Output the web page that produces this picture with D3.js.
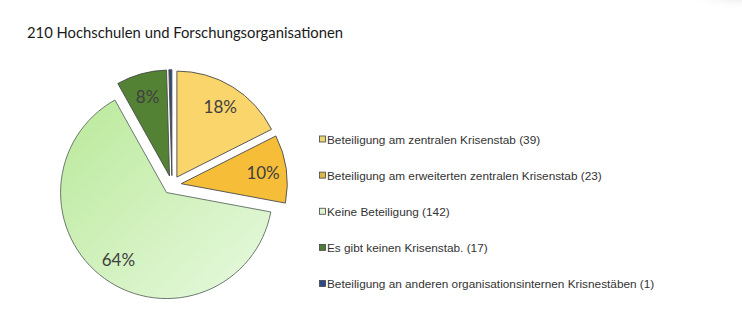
<!DOCTYPE html>
<html>
<head>
<meta charset="utf-8">
<script src="https://cdn.jsdelivr.net/npm/d3@7"></script>
<style>
  html, body { margin: 0; padding: 0; background: #fff; }
  svg { display: block; }
</style>
</head>
<body>
<svg id="chart" width="742" height="333"></svg>
<script>
// Crisis-staff participation across institutions
const categories = [
  "Beteiligung am zentralen Krisenstab",
  "Beteiligung am erweiterten zentralen Krisenstab",
  "Keine Beteiligung",
  "Es gibt keinen Krisenstab.",
  "Beteiligung an anderen organisationsinternen Krisnestäben"
];
const counts = [39, 23, 142, 17, 1];
const percentLabels = ["18%", "10%", "64%", "8%", ""];
const title = "210 Hochschulen und Forschungsorganisationen";

const sliceColors = ["#FAD56B", "#F6BE38", "url(#greenGrad)", "#548235", "#2E4A7D"];
const legendColors = ["#E9D673", "#D9B84A", "#DDF3D2", "#4E7A3A", "#2A4A8A"];

const svg = d3.select("#chart");

// soft shadow in the upper right corner
const defs = svg.append("defs");
const shade = defs.append("radialGradient").attr("id", "cornerShade")
  .attr("cx", "0.5").attr("cy", "0.5").attr("r", "0.5");
shade.append("stop").attr("offset", "0").attr("stop-color", "#d8d8d8").attr("stop-opacity", 0.7);
shade.append("stop").attr("offset", "1").attr("stop-color", "#ffffff").attr("stop-opacity", 0);
svg.append("ellipse").attr("cx", 742).attr("cy", -4).attr("rx", 60).attr("ry", 14)
  .attr("fill", "url(#cornerShade)");

// light green diagonal gradient for the large slice
const grad = defs.append("linearGradient").attr("id", "greenGrad")
  .attr("x1", 0).attr("y1", 0).attr("x2", 1).attr("y2", 1);
grad.append("stop").attr("offset", "0").attr("stop-color", "#BAE99A");
grad.append("stop").attr("offset", "1").attr("stop-color", "#E8F9E0");

// Title
svg.append("text")
  .attr("x", 27).attr("y", 38)
  .attr("font-family", "Lato, 'Open Sans', sans-serif")
  .attr("font-size", 14.8)
  .attr("fill", "#1a1a1a")
  .text(title);

// Pie
const cx = 172, cy = 185, radius = 106, explode = 9.3;
const pie = d3.pie().sort(null).value(d => d)(counts);
const arc = d3.arc().innerRadius(0).outerRadius(radius);
const labelArc = d3.arc().innerRadius(radius * 0.78).outerRadius(radius * 0.78);

const g = svg.append("g").attr("transform", `translate(${cx},${cy})`);

const slices = g.selectAll("g.slice").data(pie).enter().append("g")
  .attr("class", "slice")
  .attr("transform", d => {
    const a = (d.startAngle + d.endAngle) / 2;
    return `translate(${explode * Math.sin(a)},${-explode * Math.cos(a)})`;
  });

slices.append("path")
  .attr("d", arc)
  .attr("fill", (d, i) => sliceColors[i])
  .attr("stroke", (d, i) => i === 2 ? "#5d6b62" : "#4a4a4a")
  .attr("stroke-width", 0.9)
  .attr("stroke-linejoin", "miter");

slices.append("text")
  .attr("transform", d => `translate(${labelArc.centroid(d)})`)
  .attr("text-anchor", "middle")
  .attr("dominant-baseline", "central")
  .attr("font-family", "Lato, 'Open Sans', sans-serif")
  .attr("font-size", 17)
  .attr("fill", "#404040")
  .text((d, i) => percentLabels[i]);

// Legend
const legendY = d3.scalePoint().domain(d3.range(categories.length)).range([139.5, 284]);
const legend = svg.append("g");
const items = legend.selectAll("g").data(categories).enter().append("g")
  .attr("transform", (d, i) => `translate(319,${legendY(i)})`);
items.append("rect")
  .attr("x", 0.5).attr("y", -3.5).attr("width", 6).attr("height", 6)
  .attr("fill", (d, i) => legendColors[i])
  .attr("stroke", "#444").attr("stroke-width", 0.8);
items.append("text")
  .attr("x", 8).attr("y", 0)
  .attr("dominant-baseline", "central")
  .attr("font-family", "'Liberation Sans', Arial, sans-serif")
  .attr("font-size", 11.8)
  .attr("fill", "#333")
  .text((d, i) => `${d} (${counts[i]})`);
</script>
</body>
</html>
